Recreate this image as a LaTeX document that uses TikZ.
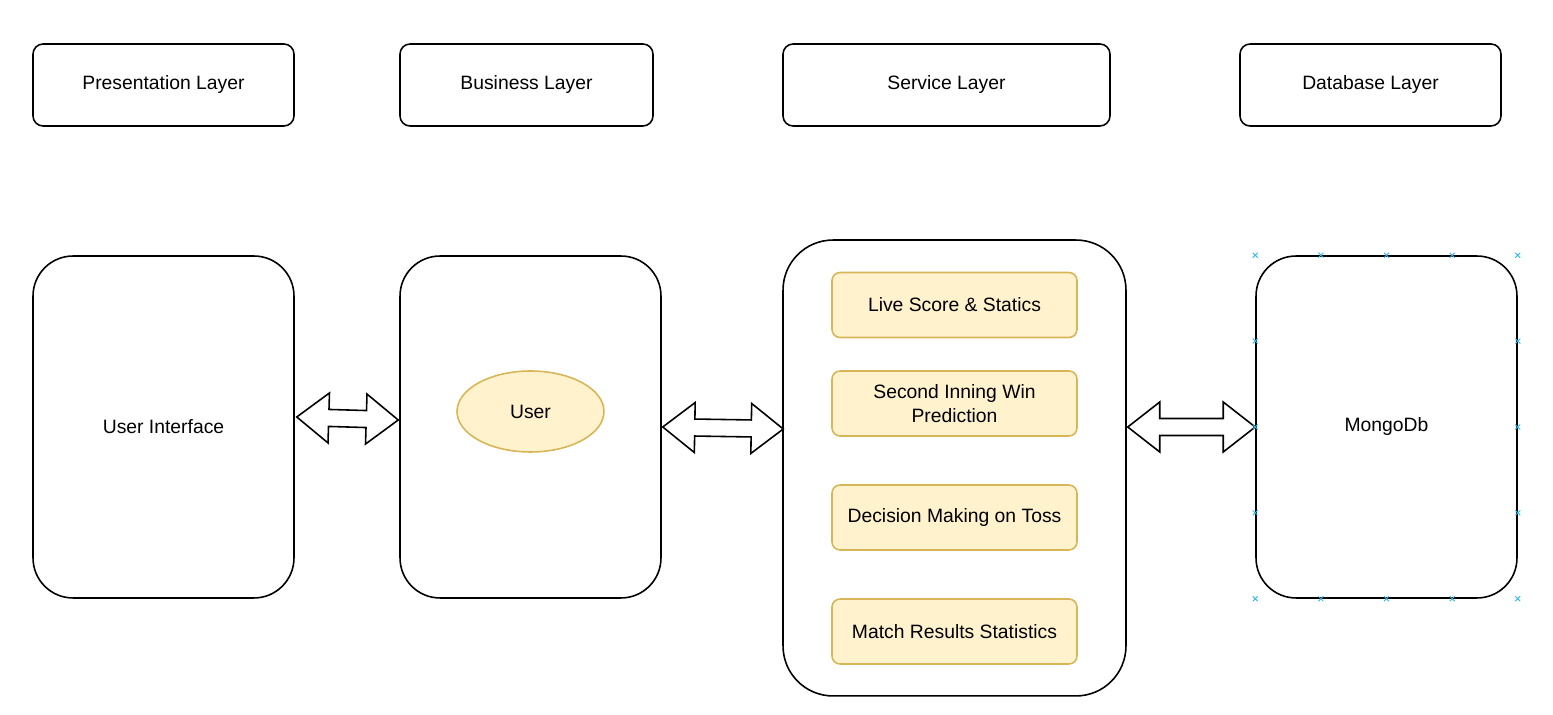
\documentclass[tikz,border=0pt]{standalone}
\usepackage{fontspec}
\setmainfont{Liberation Sans}
\usetikzlibrary{calc,shapes.geometric,shapes.misc}

\definecolor{notefill}{HTML}{FFF2CC}
\definecolor{noteline}{HTML}{D6B656}
\definecolor{handleblue}{HTML}{29B6F2}

% hollow two-headed arrow between two named points
\newcommand{\fatarrow}[2]{%
  \draw[fatarrow] (#1)
    -- ($(#1)!0.64cm!(#2)!0.5cm!90:(#2)$)
    -- ($(#1)!0.64cm!(#2)!0.17cm!90:(#2)$)
    -- ($(#2)!0.64cm!(#1)!0.17cm!-90:(#1)$)
    -- ($(#2)!0.64cm!(#1)!0.5cm!-90:(#1)$)
    -- (#2)
    -- ($(#2)!0.64cm!(#1)!0.5cm!90:(#1)$)
    -- ($(#2)!0.64cm!(#1)!0.17cm!90:(#1)$)
    -- ($(#1)!0.64cm!(#2)!0.17cm!-90:(#2)$)
    -- ($(#1)!0.64cm!(#2)!0.5cm!-90:(#2)$)
    -- cycle;}

\begin{document}
\begin{tikzpicture}[x=0.02cm, y=-0.02cm,
                    every node/.style={font=\fontsize{11}{14}\selectfont},
                    layerbox/.style={draw, line width=0.9pt, rectangle, rounded corners=0.2cm, align=center, minimum height=1.64cm},
                    block/.style={draw, line width=0.9pt, rectangle, rounded corners=0.8cm, align=center, minimum width=5.22cm, minimum height=6.84cm},
                    task/.style={fill=notefill, draw=noteline, line width=0.9pt, rectangle, rounded corners=0.16cm, align=center, minimum width=4.9cm, minimum height=1.3cm},
                    fatarrow/.style={draw, line width=0.9pt, fill=white, line join=miter},
                    handle/.style={cross out, draw=handleblue, line width=0.5pt, minimum size=0.08cm, inner sep=0pt}]

	\useasboundingbox (0,0) rectangle (1553,715);

	\node[layerbox, minimum width=5.22cm] (PresLayer) at (163.5,85) {Presentation Layer};
	
	\node[layerbox, minimum width=5.06cm] (BusLayer) at (526.5,85) {Business Layer};
	
	\node[layerbox, minimum width=6.54cm] (ServLayer) at (946.5,85) {Service Layer};
	
	\node[layerbox, minimum width=5.22cm] (DbLayer) at (1370.5,85) {Database Layer};
	
	\node[block] (UserInt) at (163.5,427) {User Interface};
	
	\node[block] (Business) at (530.5,427) {};
	
	\node[block, minimum width=6.86cm, minimum height=9.12cm, rounded corners=1cm] (Service) at (954.5,468) {};
	
	\node[block] (Mongo) at (1386.5,427) {MongoDb};
	
	\node[ellipse, fill=notefill, draw=noteline, line width=0.9pt, minimum width=2.94cm, minimum height=1.62cm] (User) at (530.5,411.5) {User};
	
	\node[task] (LiveScore) at (954.5,305) {Live Score \& Statics};
	
	\node[task] (WinPred) at (954.5,403.5) {Second Inning Win\\ Prediction};
	
	\node[task] (Toss) at (954.5,517.5) {Decision Making on Toss};
	
	\node[task] (MatchStats) at (954.5,631.5) {Match Results Statistics};
	
	
	\coordinate (UserIntR) at ($(UserInt.east)+(2,-10)$);
	\coordinate (BusinessL) at ($(Business.west)+(-1,-7)$);
	\coordinate (BusinessR) at ($(Business.east)+(1,0)$);
	\coordinate (ServiceL) at ($(Service.west)+(1,-39)$);
	\coordinate (ServiceR) at ($(Service.east)+(1,-41)$);
	\coordinate (MongoL) at (Mongo.west);
	
	\fatarrow{UserIntR}{BusinessL}
	
	\fatarrow{BusinessR}{ServiceL}
	
	\fatarrow{ServiceR}{MongoL}
	
	
	\foreach \t in {0,0.25,0.5,0.75,1} {
		\node[handle] at ($(Mongo.north west)!\t!(Mongo.north east)$) {};
		\node[handle] at ($(Mongo.south west)!\t!(Mongo.south east)$) {};
	}
	\foreach \t in {0.25,0.5,0.75} {
		\node[handle] at ($(Mongo.north west)!\t!(Mongo.south west)$) {};
		\node[handle] at ($(Mongo.north east)!\t!(Mongo.south east)$) {};
	}
	
\end{tikzpicture}
\end{document}
